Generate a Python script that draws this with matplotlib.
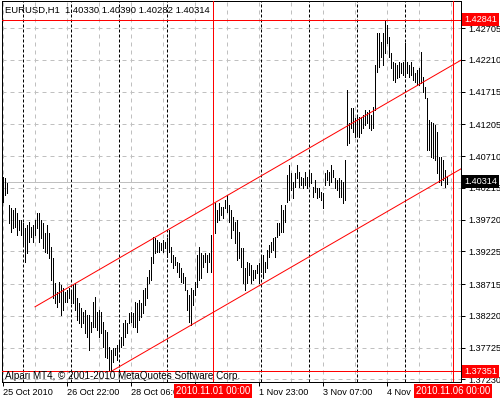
import matplotlib
matplotlib.use('Agg')
import matplotlib.pyplot as plt

plt.rcParams['font.family'] = ['Liberation Sans', 'DejaVu Sans']

symbol = 'EURUSD,H1'
last_bar = [1.40330, 1.40390, 1.40282, 1.40314]  # open, high, low, close
copyright_text = 'Alpari MT4, \u00a9 2001-2010 MetaQuotes Software Corp.'

# hourly bars, 25 Oct 14:00 .. 5 Nov 21:00
highs = [
    1.4039, 1.4037, 1.4029, 1.3995, 1.3990, 1.3987, 1.3990, 1.3982, 1.3971, 1.3971,
    1.3967, 1.3959, 1.3964, 1.3968, 1.3961, 1.3964, 1.3971, 1.3982, 1.3982, 1.3971,
    1.3967, 1.3951, 1.3964, 1.3951, 1.3929, 1.3912, 1.3873, 1.3859, 1.3875, 1.3870,
    1.3865, 1.3859, 1.3862, 1.3865, 1.3862, 1.3870, 1.3873, 1.3850, 1.3842, 1.3834,
    1.3828, 1.3831, 1.3823, 1.3823, 1.3812, 1.3844, 1.3851, 1.3828, 1.3831, 1.3828,
    1.3812, 1.3800, 1.3797, 1.3773, 1.3769, 1.3772, 1.3772, 1.3776, 1.3781, 1.3789,
    1.3811, 1.3815, 1.3811, 1.3826, 1.3828, 1.3826, 1.3844, 1.3842, 1.3847, 1.3842,
    1.3862, 1.3865, 1.3882, 1.3893, 1.3914, 1.3945, 1.3943, 1.3940, 1.3937, 1.3936,
    1.3940, 1.3937, 1.3943, 1.3956, 1.3929, 1.3917, 1.3914, 1.3906, 1.3904, 1.3897,
    1.3889, 1.3883, 1.3862, 1.3854, 1.3865, 1.3862, 1.3875, 1.3917, 1.3929, 1.3920,
    1.3917, 1.3920, 1.3917, 1.3920, 1.3948, 1.3979, 1.3998, 1.3987, 1.3998, 1.3992,
    1.3992, 1.4003, 1.4010, 1.3995, 1.3987, 1.3976, 1.3968, 1.3971, 1.3953, 1.3928,
    1.3928, 1.3897, 1.3906, 1.3904, 1.3901, 1.3893, 1.3893, 1.3901, 1.3904, 1.3914,
    1.3917, 1.3906, 1.3925, 1.3932, 1.3937, 1.3943, 1.3945, 1.3967, 1.3967, 1.3995,
    1.3987, 1.3995, 1.4042, 1.4057, 1.4045, 1.4031, 1.4045, 1.4057, 1.4046, 1.4039,
    1.4037, 1.4046, 1.4039, 1.4046, 1.4045, 1.4023, 1.4034, 1.4021, 1.4021, 1.4015,
    1.4014, 1.4045, 1.4049, 1.4046, 1.4057, 1.4049, 1.4037, 1.4034, 1.4037, 1.4034,
    1.4031, 1.4065, 1.4174, 1.4123, 1.4146, 1.4146, 1.4131, 1.4132, 1.4132, 1.4132,
    1.4135, 1.4143, 1.4140, 1.4143, 1.4135, 1.4148, 1.4213, 1.4263, 1.4263, 1.4249,
    1.4263, 1.42841, 1.4276, 1.4257, 1.4232, 1.4218, 1.4216, 1.4213, 1.4218, 1.4216,
    1.4218, 1.4248, 1.4218, 1.4213, 1.4218, 1.4210, 1.4201, 1.4205, 1.4209, 1.4234,
    1.4195, 1.4179, 1.4162, 1.4127, 1.4124, 1.4123, 1.4120, 1.4109, 1.4070, 1.4070,
    1.4065, 1.4049, 1.40390,
]
lows = [
    1.3999, 1.4010, 1.4014, 1.3967, 1.3953, 1.3959, 1.3961, 1.3948, 1.3956, 1.3948,
    1.3932, 1.3906, 1.3920, 1.3937, 1.3945, 1.3937, 1.3948, 1.3959, 1.3937, 1.3943,
    1.3928, 1.3922, 1.3920, 1.3912, 1.3878, 1.3850, 1.3842, 1.3836, 1.3844, 1.3823,
    1.3831, 1.3844, 1.3844, 1.3850, 1.3842, 1.3842, 1.3831, 1.3815, 1.3811, 1.3805,
    1.3811, 1.3795, 1.3789, 1.3769, 1.3797, 1.3805, 1.3805, 1.3800, 1.3789, 1.3795,
    1.3773, 1.3758, 1.3756, 1.37351, 1.3737, 1.3750, 1.3761, 1.3753, 1.3769, 1.3773,
    1.3776, 1.3789, 1.3795, 1.3811, 1.3812, 1.3805, 1.3805, 1.3797, 1.3815, 1.3820,
    1.3826, 1.3839, 1.3850, 1.3873, 1.3878, 1.3904, 1.3920, 1.3922, 1.3922, 1.3925,
    1.3922, 1.3928, 1.3914, 1.3922, 1.3906, 1.3897, 1.3901, 1.3890, 1.3883, 1.3875,
    1.3873, 1.3862, 1.3831, 1.3812, 1.3808, 1.3839, 1.3854, 1.3867, 1.3878, 1.3881,
    1.3898, 1.3906, 1.3890, 1.3906, 1.3890, 1.3929, 1.3951, 1.3968, 1.3971, 1.3979,
    1.3975, 1.3990, 1.3984, 1.3968, 1.3943, 1.3956, 1.3936, 1.3909, 1.3912, 1.3898,
    1.3873, 1.3862, 1.3873, 1.3886, 1.3873, 1.3878, 1.3881, 1.3889, 1.3873, 1.3890,
    1.3881, 1.3890, 1.3897, 1.3914, 1.3922, 1.3925, 1.3914, 1.3945, 1.3948, 1.3953,
    1.3953, 1.3968, 1.3999, 1.4003, 1.4018, 1.4006, 1.4023, 1.4037, 1.4023, 1.4026,
    1.4021, 1.4026, 1.4021, 1.4026, 1.4029, 1.4007, 1.4015, 1.4006, 1.4007, 1.4003,
    1.3990, 1.4026, 1.4034, 1.4026, 1.4031, 1.4039, 1.4021, 1.4018, 1.4007, 1.4007,
    1.3998, 1.4003, 1.4088, 1.4092, 1.4115, 1.4109, 1.4101, 1.4104, 1.4101, 1.4107,
    1.4115, 1.4120, 1.4123, 1.4115, 1.4112, 1.4115, 1.4143, 1.4202, 1.4210, 1.4226,
    1.4213, 1.4232, 1.4248, 1.4226, 1.4208, 1.4190, 1.4187, 1.4193, 1.4195, 1.4201,
    1.4198, 1.4195, 1.4201, 1.4195, 1.4198, 1.4190, 1.4187, 1.4182, 1.4182, 1.4185,
    1.4171, 1.4162, 1.4081, 1.4081, 1.4070, 1.4068, 1.4065, 1.4045, 1.4031, 1.4026,
    1.4034, 1.4023, 1.40282,
]

price_ticks = [1.42705, 1.42210, 1.41715, 1.41205, 1.40710, 1.40215,
               1.39720, 1.39225, 1.38715, 1.38220, 1.37725, 1.37230]
time_tick_bars = [0, 32, 64, 96, 128, 160, 192]
# the 29 Oct 14:00 label sits under the red time box, so it is left blank
time_tick_labels = ['25 Oct 2010', '26 Oct 22:00', '28 Oct 06:00', '',
                    '1 Nov 23:00', '3 Nov 07:00', '4 Nov 15:00']
day_start_bars = [10, 34, 58, 82, 105, 129, 153, 177, 201]

# channel anchors (bar index, price)
upper_channel = ([16, 230], [1.3836, 1.42225])
lower_channel = ([54, 230], [1.37351, 1.4053])
h_levels = [1.42841, 1.37351]
v_line_bars = [105, 225]
v_line_labels = ['2010.11.01 00:00', '2010.11.06 00:00']

PX = 0.72  # one pixel in points at dpi 100
RED = '#ff0000'
GRID = '#c0c0c0'

fig = plt.figure(figsize=(5, 4), dpi=100)
ax = fig.add_axes([2 / 500, 18 / 400, 459 / 500, 381 / 400])
ax.set_xlim(-0.5, 229)
ax.set_ylim(1.37187, 1.43130)

# grid
for b in range(0, 230, 16):
    ax.axvline(b, color=GRID, lw=PX, ls=(0, (4, 4)), zorder=1)
for p in price_ticks:
    ax.axhline(p, color=GRID, lw=PX, ls=(0, (4, 4)), zorder=1)
for b in day_start_bars:
    ax.axvline(b, color='black', lw=PX, ls=(0, (3, 2)), zorder=1)

# bid line
ax.axhline(last_bar[3], color=GRID, lw=PX, zorder=2)

# bars
ax.vlines(range(len(highs)), lows, highs, colors='black', lw=PX * 0.95,
          antialiased=False, zorder=3)

# objects
ax.plot(*upper_channel, color=RED, lw=PX, zorder=4)
ax.plot(*lower_channel, color=RED, lw=PX, zorder=4)
for p in h_levels:
    ax.axhline(p, color=RED, lw=PX, zorder=4)
for b in v_line_bars:
    ax.axvline(b, color=RED, lw=PX, zorder=4)

# axes styling
for s in ax.spines.values():
    s.set_linewidth(PX)
    s.set_color('black')
ax.yaxis.tick_right()
ax.set_yticks(price_ticks)
ax.set_yticklabels([f'{p:.5f}' for p in price_ticks])
ax.tick_params(axis='y', direction='out', length=3, width=PX, pad=2, labelsize=6.6)
ax.set_xticks(time_tick_bars)
ax.set_xticklabels(time_tick_labels)
ax.tick_params(axis='x', direction='out', length=3, width=PX, pad=1, labelsize=6.6)
for lbl in ax.get_xticklabels():
    lbl.set_ha('left')

# price labels of objects
for p in h_levels:
    ax.annotate(f'{p:.5f}', xy=(1, p), xycoords=('axes fraction', 'data'),
                xytext=(2.2, 0), textcoords='offset points', ha='left', va='center',
                color='white', fontsize=6.6, zorder=10, annotation_clip=False,
                bbox=dict(boxstyle='square,pad=0.2', fc=RED, ec='none'))
ax.annotate(f'{last_bar[3]:.5f}', xy=(1, last_bar[3]), xycoords=('axes fraction', 'data'),
            xytext=(2.2, 0), textcoords='offset points', ha='left', va='center',
            color='white', fontsize=6.6, zorder=10, annotation_clip=False,
            bbox=dict(boxstyle='square,pad=0.2', fc='black', ec='none'))

# time labels of vertical lines
for b, lbl in zip(v_line_bars, v_line_labels):
    ax.annotate(lbl, xy=(b, 0), xycoords=('data', 'axes fraction'),
                xytext=(0, -6.2), textcoords='offset points', ha='center', va='center',
                color='white', fontsize=6.9, zorder=10, annotation_clip=False,
                bbox=dict(boxstyle='square,pad=0.2', fc=RED, ec='none'))

header = f'{symbol}  ' + ' '.join(f'{v:.5f}' for v in last_bar)
fig.text(5 / 500, 1 - 10 / 400, header, fontsize=6.8, va='center', ha='left')
fig.text(5 / 500, 1 - 376 / 400, copyright_text, fontsize=7.1, va='center', ha='left')

fig.savefig('out.png', dpi=100)
